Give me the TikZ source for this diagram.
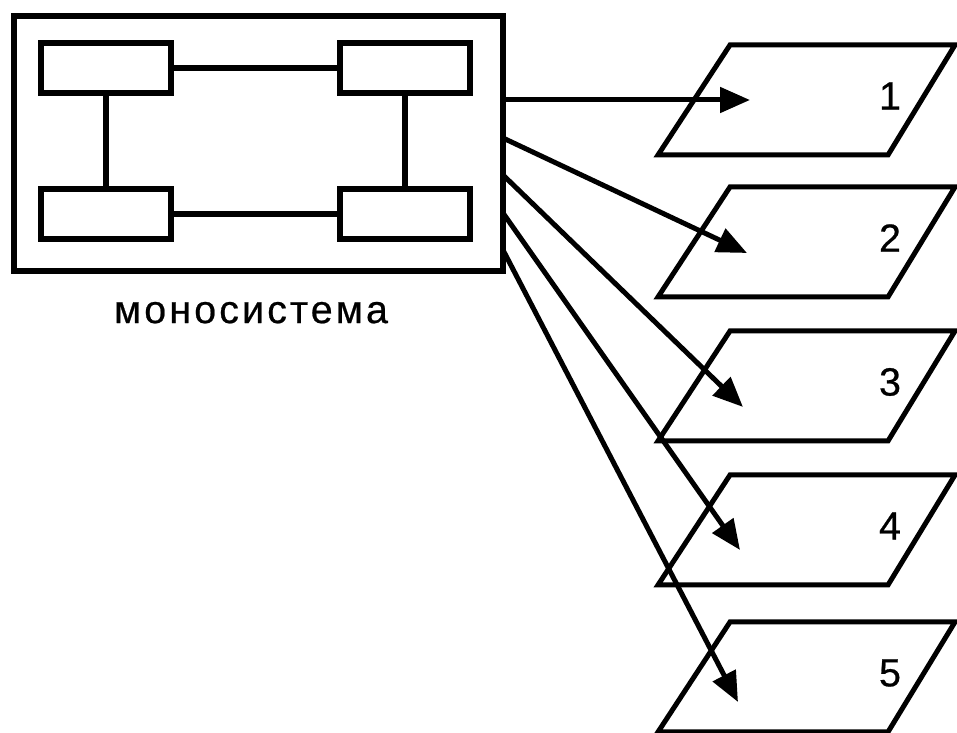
\documentclass[tikz,border=0pt]{standalone}
\usepackage{fontspec}
\setmainfont{Liberation Sans}[LetterSpace=8,FakeBold=0.6]
\usetikzlibrary{positioning,arrows.meta}

\tikzset{
  blk/.style={draw, line width=0.65mm, minimum width=1.3cm, minimum height=0.5cm, inner sep=0pt},
  link/.style={line width=0.6mm},
  ray/.style={line width=0.5mm, -{Triangle[length=3mm,width=2.5mm]}},
  plane/.style={line width=0.5mm, line join=miter},
}

\begin{document}
\begin{tikzpicture}[x=0.1mm, y=-0.1mm, font=\fontsize{11.2}{13}\selectfont]
\useasboundingbox (0,0) rectangle (957,733);

% monosystem
\node[draw, line width=0.6mm, minimum width=4.89cm, minimum height=2.55cm, inner sep=0pt] (sys) at (258,144) {};
\node[blk] (tl) at (106,68) {};
\node[blk] (tr) at (405,68) {};
\node[blk] (bl) at (106,214) {};
\node[blk] (br) at (405,214) {};
\draw[link] (tl) -- (tr);
\draw[link] (bl) -- (br);
\draw[link] (tl) -- (bl);
\draw[link] (tr) -- (br);
\node[below=1.5mm of sys, xshift=-0.7mm] (lbl) {моносистема};

% planes and arrows
\foreach \i/\ytop/\sy/\tx/\ty in {1/45/100/750/100, 2/187/138/747/253, 3/331/175/743/407, 4/475/213/740/550, 5/622/250/738/702}{
  \draw[plane] (730,\ytop) -- (955,\ytop) -- (888,\ytop+110) -- (658,\ytop+110) -- cycle;
  \node (n\i) at (890,\ytop+51) {\i};
  \coordinate (s\i) at (503,\sy);
  \coordinate (t\i) at (\tx,\ty);
  \draw[ray] (s\i) -- (t\i);
}
\end{tikzpicture}
\end{document}
